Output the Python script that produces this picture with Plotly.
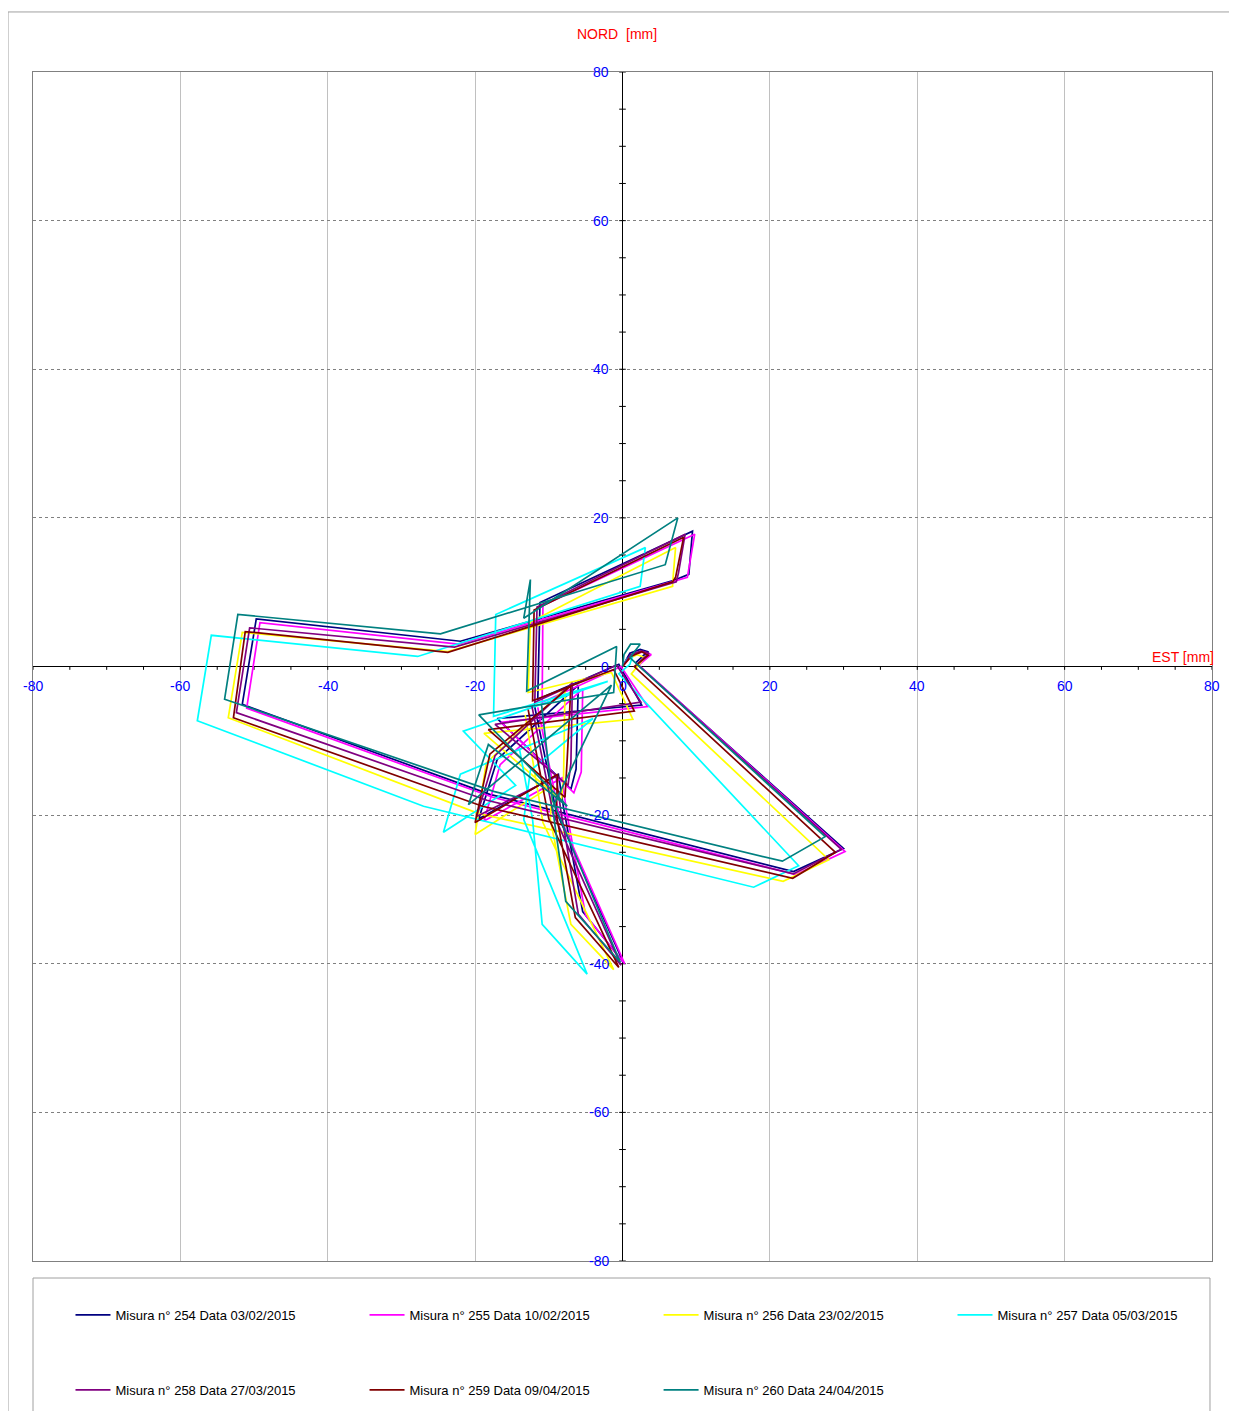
import plotly.graph_objects as go

# ---------------- data ----------------
NAMES = ["Misura n° 254 Data 03/02/2015", "Misura n° 255 Data 10/02/2015",
         "Misura n° 256 Data 23/02/2015", "Misura n° 257 Data 05/03/2015",
         "Misura n° 258 Data 27/03/2015", "Misura n° 259 Data 09/04/2015",
         "Misura n° 260 Data 24/04/2015"]
COLORS = ["#000080", "#FF00FF", "#FFFF00", "#00FFFF", "#800080", "#800000", "#008080"]

X254 = [0.0, 1.0, 2.4, 3.4, 1.8, 30.0, 23.2, -18.0, -51.6, -49.7, -22.0, 7.0, 9.0, 9.5, -11.2, -11.5, -0.5, 2.6, -17.0, -7.0, -6.3, -6.0, -17.0, -19.5, -8.7, -8.0, -5.4, 0.1, -9.0, -12.0]
Y254 = [0.0, 1.8, 2.3, 2.0, 0.5, -24.5, -27.6, -17.2, -5.1, 6.4, 3.4, 11.6, 12.4, 18.2, 8.6, -4.4, 0.3, -5.2, -7.0, -16.5, -13.8, -2.5, -12.5, -20.5, -14.5, -19.0, -33.0, -39.8, -19.5, -5.0]

X255 = [0.0, 1.3, 2.8, 3.9, 2.2, 30.2, 23.5, -17.6, -51.0, -49.2, -22.3, 7.5, 8.8, 9.8, -10.8, -10.9, -0.2, 3.4, -16.5, -6.6, -5.6, -5.4, -16.6, -18.8, -8.2, -7.6, -5.0, 0.3, -8.6, -11.5]
Y255 = [0.0, 1.5, 2.0, 1.6, 0.2, -24.9, -28.0, -17.6, -5.6, 5.9, 3.0, 11.7, 12.0, 17.8, 8.2, -4.8, 0.0, -5.4, -7.5, -17.0, -14.2, -3.0, -13.2, -20.8, -15.0, -19.5, -33.5, -40.0, -20.0, -5.5]

X256 = [0.0, 0.8, 2.0, 3.0, 1.2, 28.0, 21.8, -19.5, -53.5, -51.6, -23.7, 6.8, 6.8, 7.2, -12.5, -12.8, -1.5, 1.4, -18.8, -8.3, -8.0, -7.8, -18.5, -20.0, -9.5, -9.8, -7.0, -1.2, -10.8, -13.2]
Y256 = [0.0, 1.0, 1.6, 1.2, -1.0, -26.0, -28.9, -19.8, -6.9, 4.6, 2.0, 10.8, 11.2, 16.0, 6.0, -3.5, -0.8, -7.1, -9.0, -18.0, -15.0, -3.0, -13.0, -22.6, -16.0, -20.5, -34.7, -40.8, -21.0, -6.5]

X257 = [0.0, 0.6, 1.4, 1.0, -0.5, 23.9, 17.8, -27.0, -57.7, -55.8, -27.8, 2.4, 3.1, -17.2, -17.5, -2.0, -21.6, -14.5, -24.3, -22.0, -4.0, -12.5, -13.4, -4.8, -10.9, -12.2, -14.0]
Y257 = [0.0, 1.0, 1.5, 0.3, -1.0, -26.8, -29.7, -18.8, -7.3, 4.2, 1.35, 10.8, 16.0, 7.0, -6.7, -2.0, -8.7, -16.0, -22.3, -14.5, -7.0, -14.0, -20.6, -41.4, -34.7, -20.6, -11.0]

X258 = [0.0, 1.1, 2.5, 3.6, 2.0, 29.7, 23.2, -18.4, -52.4, -50.6, -22.8, 7.3, 7.6, 8.5, -11.6, -11.9, -0.8, 2.5, -17.3, -7.4, -7.0, -6.8, -17.3, -19.8, -9.0, -8.4, -6.0, -0.2, -9.4, -12.3]
Y258 = [0.0, 1.6, 2.1, 1.8, 0.3, -24.6, -27.9, -18.0, -6.2, 5.2, 2.6, 11.4, 12.6, 17.8, 8.0, -4.8, 0.2, -4.8, -7.8, -16.0, -13.0, -2.2, -12.0, -20.2, -14.8, -19.2, -33.3, -40.2, -19.8, -5.3]

X259 = [0.0, 1.2, 2.6, 3.5, 1.6, 28.9, 23.1, -19.0, -52.8, -51.2, -23.7, 6.8, 7.2, 8.3, -12.0, -12.2, -1.2, 1.6, -18.2, -7.8, -7.5, -7.0, -18.0, -20.0, -8.8, -9.0, -6.4, -0.5, -10.0, -12.8]
Y259 = [0.0, 1.4, 2.0, 1.5, 0.0, -25.0, -28.5, -18.8, -6.9, 4.7, 1.9, 11.4, 12.0, 17.4, 7.6, -4.6, -0.4, -6.0, -8.5, -17.6, -12.4, -2.6, -11.8, -21.0, -14.5, -19.8, -33.8, -40.5, -20.5, -5.8]

X260 = [0.0, 0.2, 1.1, 2.4, 1.0, 27.5, 21.7, -17.5, -54.0, -52.2, -24.7, 5.8, 7.5, -13.4, -12.5, -13.0, -0.8, -1.2, -19.5, -7.5, -18.2, -20.9, -1.5, -9.5, -7.7, -0.3, -9.5, -11.0]
Y260 = [0.0, 1.6, 3.0, 3.0, 1.2, -22.9, -26.2, -16.8, -4.4, 7.0, 4.4, 13.7, 20.0, 6.5, 11.7, -3.3, 2.7, -3.5, -6.5, -18.8, -10.5, -18.6, -2.5, -19.0, -31.6, -39.8, -18.0, -5.0]

TICK_VALUES = [-80, -60, -40, -20, 0, 20, 40, 60, 80]
MINOR_STEP = 5
AXIS_RANGE = [-80, 80]

SERIES_X = [X254, X255, X256, X257, X258, X259, X260]
SERIES_Y = [Y254, Y255, Y256, Y257, Y258, Y259, Y260]
# legend column of each series (4 columns, 2 rows like the reference)
LEGEND_OF = ["legend", "legend2", "legend3", "legend4", "legend", "legend2", "legend3"]

# ---------------- figure ----------------
fig = go.Figure()

# minor tick marks along the zero axes
tx, ty = [], []
v = AXIS_RANGE[0]
while v <= AXIS_RANGE[1]:
    tx += [v, v, None]
    ty += [0.0, -0.45, None]
    v += MINOR_STEP
v = AXIS_RANGE[0]
while v <= AXIS_RANGE[1]:
    tx += [-0.45, 0.45, None]
    ty += [v, v, None]
    v += MINOR_STEP
fig.add_trace(go.Scatter(x=tx, y=ty, mode="lines", line=dict(color="black", width=1),
                         showlegend=False, hoverinfo="skip"))

for name, color, xs, ys, leg in zip(NAMES, COLORS, SERIES_X, SERIES_Y, LEGEND_OF):
    fig.add_trace(go.Scatter(x=xs, y=ys, mode="lines", name=name, legendgroup=name,
                             line=dict(color=color, width=1.7), legend=leg))

FONT = "Liberation Sans, Arial, sans-serif"
annotations = []
for t in TICK_VALUES:
    annotations.append(dict(x=t, y=0, xref="x", yref="y", text=str(t), showarrow=False,
                            yshift=-19, xanchor="center", yanchor="middle",
                            font=dict(family=FONT, size=14, color="#0000FF")))
    annotations.append(dict(x=0, y=t, xref="x", yref="y", text=str(t), showarrow=False,
                            xshift=-12, xanchor="right", yanchor="middle",
                            font=dict(family=FONT, size=14, color="#0000FF")))
annotations.append(dict(x=0.4953, y=1.032, xref="paper", yref="paper", text="NORD  [mm]",
                        showarrow=False, xanchor="center", yanchor="middle",
                        font=dict(family=FONT, size=14, color="#FF0000")))
annotations.append(dict(x=1.0034, y=0, xref="paper", yref="y", text="EST [mm]",
                        showarrow=False, xanchor="right", yanchor="middle", yshift=10,
                        font=dict(family=FONT, size=14, color="#FF0000")))

shapes = [
    dict(type="rect", xref="paper", yref="paper", x0=-0.0212, x1=1.0195, y0=-0.2, y1=1.0505,
         line=dict(color="#A0A0A0", width=1), layer="below"),
    dict(type="rect", xref="paper", yref="paper", x0=0.0, x1=0.9983, y0=-0.2, y1=-0.0143,
         line=dict(color="#A0A0A0", width=1), layer="below"),
]

axis_common = dict(range=AXIS_RANGE, dtick=20, tick0=0, showgrid=True, gridwidth=1,
                   zeroline=True, zerolinecolor="black", zerolinewidth=1,
                   showline=True, mirror=True, linecolor="#808080", linewidth=1,
                   showticklabels=False, ticks="")

LEGEND_X = [0.0318, 0.2812, 0.5306, 0.7799]
legend_common = dict(orientation="v", y=-0.0328, yanchor="top", xanchor="left",
                     tracegroupgap=55, itemwidth=35, bgcolor="rgba(0,0,0,0)",
                     font=dict(family=FONT, size=13))

fig.update_layout(
    width=1229, height=1403,
    margin=dict(l=25, r=25, t=64, b=150, autoexpand=False),
    paper_bgcolor="white", plot_bgcolor="white",
    font=dict(family=FONT, size=13, color="black"),
    xaxis=dict(**axis_common, gridcolor="#C0C0C0"),
    yaxis=dict(**axis_common, gridcolor="#808080", griddash="dot"),
    annotations=annotations,
    shapes=shapes,
    showlegend=True,
    legend=dict(x=LEGEND_X[0], **legend_common),
    legend2=dict(x=LEGEND_X[1], **legend_common),
    legend3=dict(x=LEGEND_X[2], **legend_common),
    legend4=dict(x=LEGEND_X[3], **legend_common),
)

fig.write_html("out.html")
